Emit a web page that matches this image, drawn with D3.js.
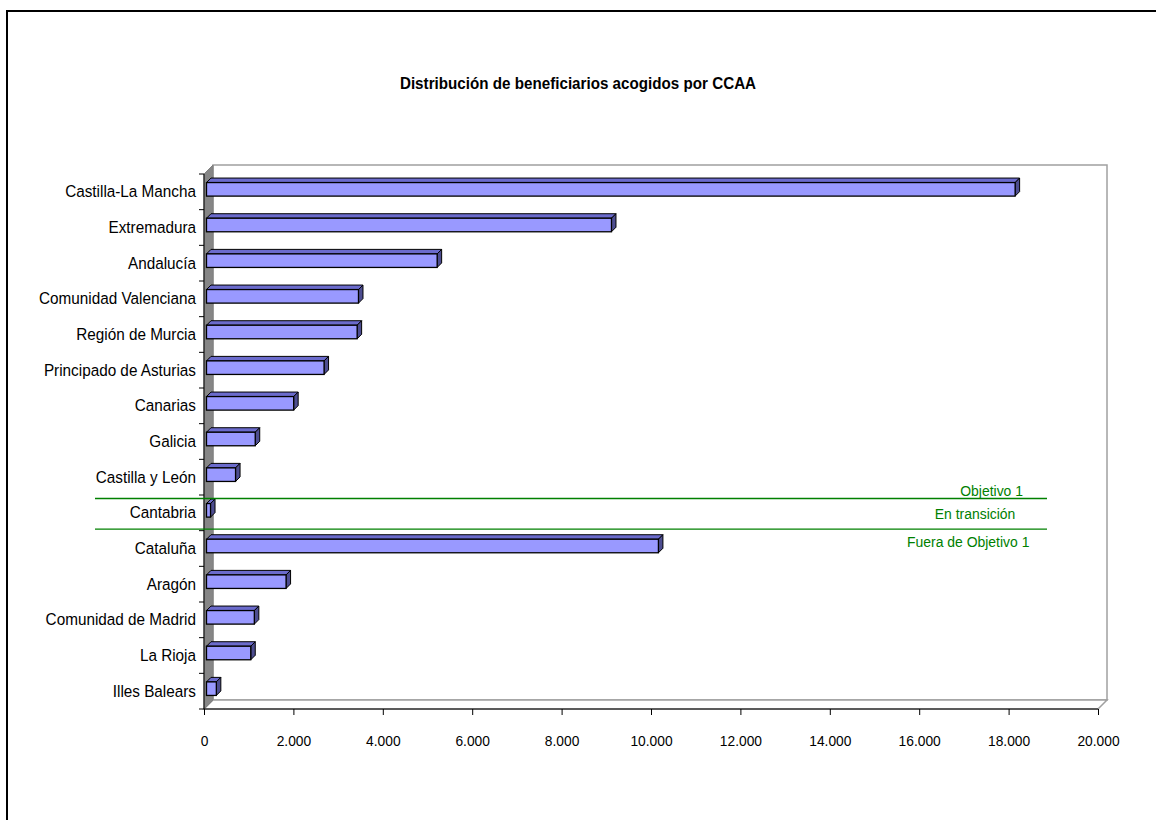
<!DOCTYPE html>
<html>
<head>
<meta charset="utf-8">
<script src="https://cdn.jsdelivr.net/npm/d3@7"></script>
<style>
  body { margin: 0; background: #fff; }
  text { font-family: "Liberation Sans Narrow", "Liberation Sans", Arial, sans-serif; }
</style>
</head>
<body>
<div class="chart"></div>
<script>
// data
var regions = ["Castilla-La Mancha", "Extremadura", "Andalucía", "Comunidad Valenciana",
  "Región de Murcia", "Principado de Asturias", "Canarias", "Galicia", "Castilla y León",
  "Cantabria", "Cataluña", "Aragón", "Comunidad de Madrid", "La Rioja", "Illes Balears"];
var beneficiarios = [18090, 9060, 5160, 3400, 3370, 2630, 1950, 1090, 650,
  90, 10110, 1780, 1070, 990, 220];
var xTicks = [0, 2000, 4000, 6000, 8000, 10000, 12000, 14000, 16000, 18000, 20000];
var zoneLabels = ["Objetivo 1", "En transición", "Fuera de Objetivo 1"];

var svgWidth = 1156, svgHeight = 820;
var margin = { top: 174, left: 204, right: 58, bottom: 111 };
var width = svgWidth - margin.left - margin.right;
var height = svgHeight - margin.top - margin.bottom;
var depth = 9;       // wall depth (px)
var barDepth = 4.5;  // bar depth (px)
var barShift = 2.5;  // bar front face sits a little inside

// squeeze text horizontally to look like a narrow font
function condense(sel, s) {
  sel.each(function() {
    var t = d3.select(this);
    var x = +t.attr("x") || 0, y = +t.attr("y") || 0;
    t.attr("x", 0).attr("y", 0)
      .attr("transform", `translate(${x},${y}) scale(${s},1)`);
  });
}

var svg = d3.select(".chart").append("svg")
  .attr("width", svgWidth)
  .attr("height", svgHeight);

// outer frame (top and left only visible)
svg.append("path")
  .attr("d", "M7,820 V11 H1156")
  .attr("fill", "none")
  .attr("stroke", "#000")
  .attr("stroke-width", 2);

svg.append("text")
  .attr("x", 578)
  .attr("y", 89)
  .attr("text-anchor", "middle")
  .attr("font-size", "16px")
  .attr("font-weight", "bold")
  .text("Distribución de beneficiarios acogidos por CCAA")
  .call(condense, 0.95);

var chartGroup = svg.append("g")
  .attr("transform", `translate(${margin.left}, ${margin.top})`);

var xScale = d3.scaleLinear().domain([0, 20000]).range([0, width]);
var yScale = d3.scaleBand().domain(regions).range([0, height]).padding(0);

// back wall
chartGroup.append("rect")
  .attr("x", depth)
  .attr("y", -depth)
  .attr("width", width)
  .attr("height", height)
  .attr("fill", "#fff")
  .attr("stroke", "#a0a0a0")
  .attr("stroke-width", 1.5);

// floor
chartGroup.append("path")
  .attr("d", `M0,${height} L${depth},${height - depth} L${width + depth},${height - depth} L${width},${height} Z`)
  .attr("fill", "#fff")
  .attr("stroke", "#a0a0a0")
  .attr("stroke-width", 1.5);

// side wall
chartGroup.append("path")
  .attr("d", `M0,0 L${depth},${-depth} L${depth},${height - depth} L0,${height} Z`)
  .attr("fill", "#868686")
  .attr("stroke", "#808080");

// bars
var bars = chartGroup.selectAll(".bar")
  .data(regions.map((r, i) => ({ region: r, value: beneficiarios[i] })))
  .enter()
  .append("g")
  .attr("class", "bar");

var barH = yScale.bandwidth() * 0.38;
function barY(d) { return yScale(d.region) + yScale.bandwidth() / 2 - barH / 2 - barShift; }

// top face
bars.append("path")
  .attr("d", d => {
    var x0 = barShift, x1 = barShift + xScale(d.value), y0 = barY(d);
    return `M${x0},${y0} L${x0 + barDepth},${y0 - barDepth} L${x1 + barDepth},${y0 - barDepth} L${x1},${y0} Z`;
  })
  .attr("fill", "#6b6bcc")
  .attr("stroke", "#000")
  .attr("stroke-width", 1)
  .attr("stroke-linejoin", "round");

// side face
bars.append("path")
  .attr("d", d => {
    var x1 = barShift + xScale(d.value), y0 = barY(d);
    return `M${x1},${y0} L${x1 + barDepth},${y0 - barDepth} L${x1 + barDepth},${y0 + barH - barDepth} L${x1},${y0 + barH} Z`;
  })
  .attr("fill", "#4d4d90")
  .attr("stroke", "#000")
  .attr("stroke-width", 1)
  .attr("stroke-linejoin", "round");

// front face
bars.append("rect")
  .attr("x", barShift)
  .attr("y", d => barY(d))
  .attr("width", d => xScale(d.value))
  .attr("height", barH)
  .attr("fill", "#9999ff")
  .attr("stroke", "#000")
  .attr("stroke-width", 1.3);

// axes
var xAxis = d3.axisBottom(xScale)
  .tickValues(xTicks)
  .tickSize(6)
  .tickFormat(d => d3.format(",")(d).replace(/,/g, "."));

var gx = chartGroup.append("g")
  .attr("transform", `translate(0, ${height})`)
  .call(xAxis);
gx.select(".domain").attr("stroke", "#000").attr("d", `M0,0H${width}`);
gx.selectAll("text")
  .attr("font-size", "15px")
  .attr("y", 23)
  .attr("dy", "0.9em")
  .attr("fill", "#000")
  .call(condense, 0.92);

var yAxis = d3.axisLeft(yScale).tickSize(0).tickPadding(8);
var gy = chartGroup.append("g").call(yAxis);
gy.select(".domain").attr("stroke", "#000").attr("d", `M0,0V${height}`);
gy.selectAll("text")
  .attr("font-size", "17px")
  .attr("fill", "#000")
  .call(condense, 0.9);

// category boundary ticks on the left axis
chartGroup.append("g")
  .selectAll("line")
  .data(regions.concat([null]))
  .enter()
  .append("line")
  .attr("x1", -5)
  .attr("x2", 0)
  .attr("y1", (d, i) => i * yScale.step())
  .attr("y2", (d, i) => i * yScale.step())
  .attr("stroke", "#000");

// zone separators
var sepY = [yScale("Cantabria") + 3.5, yScale("Cataluña") - 1.5];
chartGroup.selectAll(".sep")
  .data(sepY)
  .enter()
  .append("line")
  .attr("class", "sep")
  .attr("x1", 95 - margin.left)
  .attr("x2", 1047 - margin.left)
  .attr("y1", d => d)
  .attr("y2", d => d)
  .attr("stroke", "#008000")
  .attr("stroke-width", 1.3);

chartGroup.append("text")
  .attr("x", 1023 - margin.left)
  .attr("y", sepY[0] - 3)
  .attr("text-anchor", "end")
  .attr("font-size", "15px")
  .attr("fill", "#008000")
  .text(zoneLabels[0])
  .call(condense, 0.93);

chartGroup.append("text")
  .attr("x", 975 - margin.left)
  .attr("y", (sepY[0] + sepY[1]) / 2 + 5)
  .attr("text-anchor", "middle")
  .attr("font-size", "15px")
  .attr("fill", "#008000")
  .text(zoneLabels[1])
  .call(condense, 0.93);

chartGroup.append("text")
  .attr("x", 907 - margin.left)
  .attr("y", sepY[1] + 18)
  .attr("text-anchor", "start")
  .attr("font-size", "15px")
  .attr("fill", "#008000")
  .text(zoneLabels[2])
  .call(condense, 0.93);
</script>
</body>
</html>
